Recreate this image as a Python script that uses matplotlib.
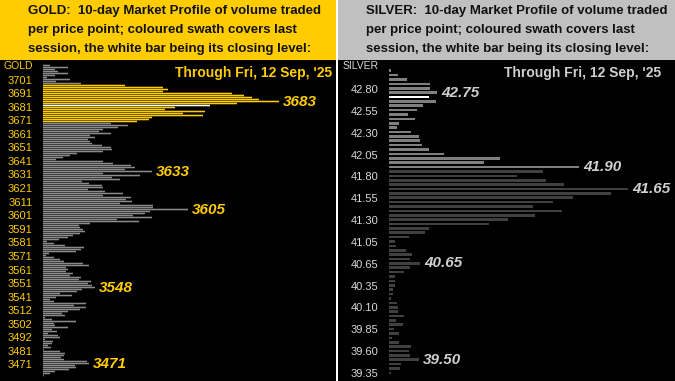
import numpy as np
import matplotlib.pyplot as plt

plt.rcParams['font.family'] = ['Liberation Sans', 'DejaVu Sans']

# ---- gold: 10-day profile, bars from top (highest price) down ----
gold_vol = [
    7, 25, 12, 15, 25, 12, 4, 27, 13, 38,
    82, 120, 125, 120, 189, 201, 209, 216, 236, 194, 167, 132, 122, 162, 140, 160, 109, 106, 94,
    68, 85, 75, 60, 56, 68, 47, 52, 45, 47,
    49, 59, 68, 69, 60, 34, 27, 20, 13, 60, 70, 88, 92, 82, 109, 60, 97, 69, 77, 39,
    46, 59, 60, 45, 62, 80, 60, 88, 83, 89, 77, 110, 110, 145, 107, 102, 90, 109,
    74, 96, 47, 36, 37, 40, 42, 37, 30, 25, 16, 4, 11, 22, 41, 38, 33, 6, 3, 11,
    17, 21, 40, 46, 23, 25, 23, 30, 27, 38, 36, 48, 45, 49, 52, 39, 34, 17, 29, 13, 7,
    11, 43, 31, 43, 37, 25, 19, 22, 2, 9, 33, 11, 12, 25, 9, 14, 5, 15, 17, 2,
    10, 9, 5, 8, 1, 17, 22, 21, 18, 21, 44, 46, 32, 33, 26, 12, 7, 1,
]
gold_swath = (10, 28)
gold_close = 20
gold_ticks = ['3701', '3691', '3681', '3671', '3661', '3651', '3641', '3631', '3621',
              '3611', '3601', '3591', '3581', '3571', '3561', '3551', '3541', '3512',
              '3502', '3492', '3481', '3471']
gold_tick_span = (7, 149.5)
gold_call_lbl = ['3683', '3633', '3605', '3548', '3471']
gold_call_idx = [18, 53, 72, 111, 149]

# ---- silver ----
silver_vol = [
    2, 9, 18, 41, 41, 48, 40, 47, 34, 28, 19, 26, 10, 8, 22, 30, 31, 33, 40, 55, 111, 95, 190,
    154, 128, 157, 175, 239, 222, 184, 164, 144, 173, 146, 119, 100, 40, 36, 20, 6, 7, 17,
    23, 21, 31, 21, 15,
    6, 6, 6, 4, 4, 2, 8, 9, 9, 15, 7, 14, 5, 10, 3, 10, 22, 20, 21, 30, 12, 11, 2,
]
silver_swath = (0, 22)
silver_close = 6
silver_ticks = ['42.80', '42.55', '42.30', '42.05', '41.80', '41.55', '41.30', '41.05',
                '40.65', '40.35', '40.10', '39.85', '39.60', '39.35']
silver_tick_span = (4.2, 69.0)
silver_call_lbl = ['42.75', '41.90', '41.65', '40.65', '39.50']
silver_call_idx = [5, 22, 27, 44, 66]

W, H = 675, 381
fig = plt.figure(figsize=(W / 100, H / 100), dpi=100)
fig.patch.set_facecolor('white')


def px_ax(x0, y0, x1, y1):
    ax = fig.add_axes([x0 / W, 1 - y1 / H, (x1 - x0) / W, (y1 - y0) / H])
    ax.set_xticks([])
    ax.set_yticks([])
    for s in ax.spines.values():
        s.set_visible(False)
    return ax


def panel(x0, x1, hdr_col, txt_col, call_col, name, vol, swath, close, swath_col, base_col,
          ticks, tick_span, call_lbl, call_idx, bar_x0, top_px, pitch, bar_h, crisp):
    hdr = px_ax(x0, 0, x1, 60)
    hdr.set_facecolor(hdr_col)
    lines = [name + ':  10-day Market Profile of volume traded',
             'per price point; coloured swath covers last',
             'session, the white bar being its closing level:']
    for k, t in enumerate(lines):
        hdr.text(28.5 / (x1 - x0), 1 - (11 + 18.8 * k) / 60, t, transform=hdr.transAxes,
                 fontsize=9.5, fontweight='bold', color='#111111', va='center', ha='left')

    bg = px_ax(x0, 60, x1, H)
    bg.set_facecolor('black')

    ax = px_ax(bar_x0, 61, x1 - 2, H)
    ax.patch.set_alpha(0)
    n = len(vol)
    idx = np.arange(n)
    cols = [base_col] * n
    for i in range(swath[0], swath[1] + 1):
        cols[i] = swath_col
    cols[close] = 'white'
    ax.barh(idx, vol, height=bar_h, color=cols, antialiased=not crisp, snap=crisp)
    ax.set_xlim(0, x1 - 2 - bar_x0)
    ax.set_ylim((H - top_px) / pitch, (61 - top_px) / pitch)
    tpos = np.linspace(tick_span[0], tick_span[1], len(ticks))
    ax.set_yticks(tpos, ticks)
    ax.tick_params(axis='y', length=0, pad=7.5, labelsize=8, labelcolor=txt_col)
    ax.text(-10.5, (66 - top_px) / pitch, name, fontsize=7.5, color=txt_col,
            ha='right', va='center')
    for lbl, i in zip(call_lbl, call_idx):
        ax.text(vol[i] + 4, i, lbl, fontsize=11, fontweight='bold', fontstyle='italic',
                color=call_col, ha='left', va='center')
    return ax


ax_g = panel(0, 336, '#FFCC00', '#FFCC00', '#FFCC00', 'GOLD', gold_vol, gold_swath, gold_close,
             '#FFCC00', '#8a8a8a', gold_ticks, gold_tick_span, gold_call_lbl, gold_call_idx,
             bar_x0=43, top_px=65.5, pitch=2.0, bar_h=0.78, crisp=False)
ax_s = panel(338, 675, '#C0C0C0', '#d9d9d9', '#cfcfcf', 'SILVER', silver_vol, silver_swath,
             silver_close, '#7f7f7f', '#404040', silver_ticks, silver_tick_span,
             silver_call_lbl, silver_call_idx, bar_x0=389, top_px=70.7, pitch=4.38,
             bar_h=0.6, crisp=True)

fig.text(332 / W, 1 - 73 / H, "Through Fri, 12 Sep, '25", fontsize=10, fontweight='bold',
         color='#FFCC00', ha='right', va='center')
fig.text(661 / W, 1 - 73 / H, "Through Fri, 12 Sep, '25", fontsize=10, fontweight='bold',
         color='#cfcfcf', ha='right', va='center')

fig.savefig('out.png', dpi=100, facecolor=fig.get_facecolor())
